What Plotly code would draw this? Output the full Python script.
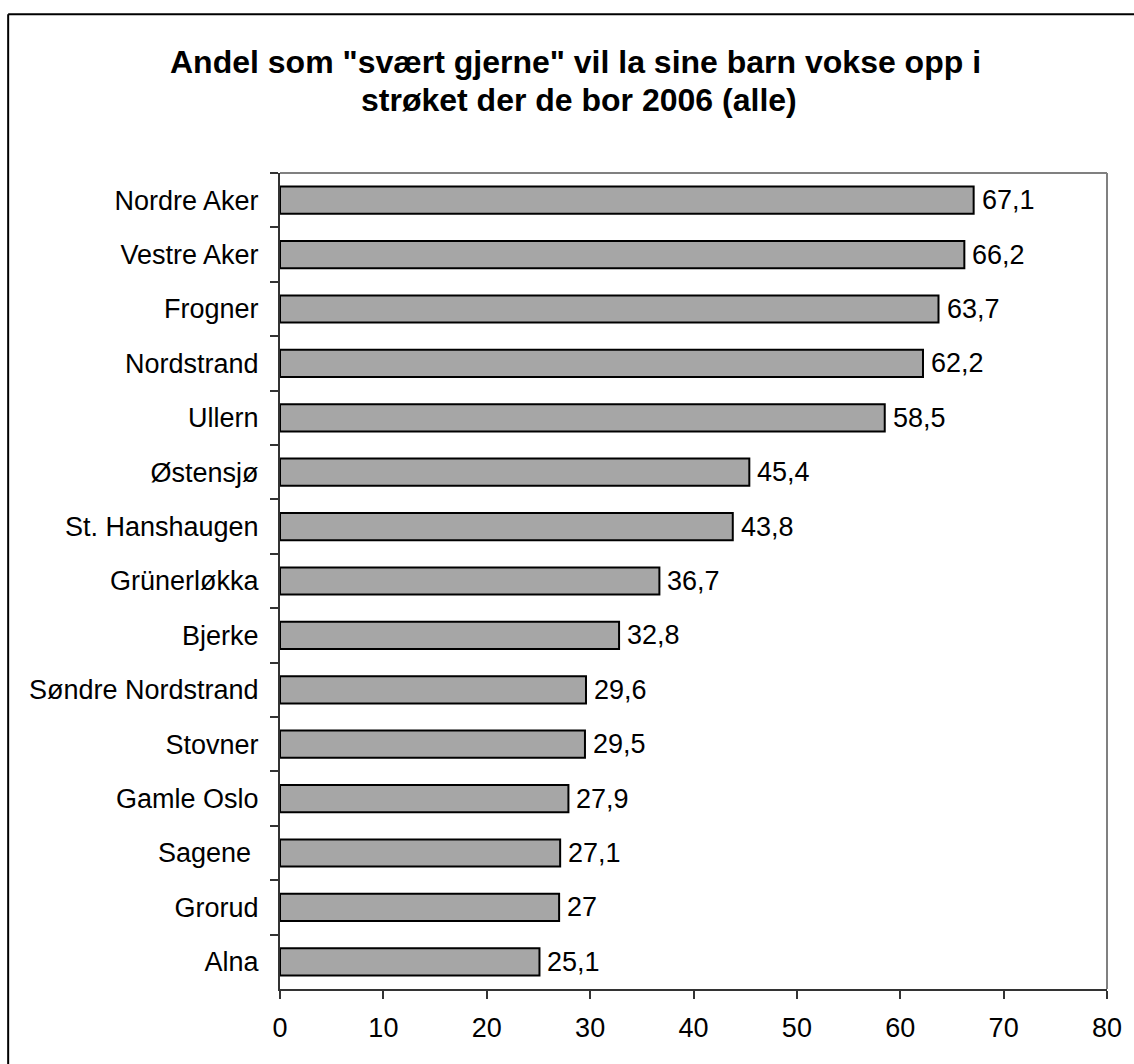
import plotly.graph_objects as go

categories = ["Nordre Aker", "Vestre Aker", "Frogner", "Nordstrand", "Ullern",
              "Østensjø", "St. Hanshaugen", "Grünerløkka", "Bjerke",
              "Søndre Nordstrand", "Stovner", "Gamle Oslo", "Sagene\u00a0",
              "Grorud", "Alna"]
values = [67.1, 66.2, 63.7, 62.2, 58.5, 45.4, 43.8, 36.7, 32.8, 29.6,
          29.5, 27.9, 27.1, 27.0, 25.1]
x_ticks = [0, 10, 20, 30, 40, 50, 60, 70, 80]
title_lines = ['Andel som "svært gjerne" vil la sine barn vokse opp i',
               'strøket der de bor 2006 (alle)']

W, H = 1134, 1064
ML, MR, MT, MB = 280, 26.5, 172.5, 74.5
PW, PH = W - ML - MR, H - MT - MB

FONT = "Liberation Sans, Arial, sans-serif"
FS = 27


def label(v):
    s = ("%.1f" % v).rstrip("0").rstrip(".")
    return s.replace(".", ",")


fig = go.Figure()
fig.add_trace(go.Bar(
    x=values, y=categories, orientation="h",
    marker=dict(color="#a6a6a6", line=dict(color="#000000", width=2)),
    width=0.5, hoverinfo="x+y",
))

annotations = []
for c, v in zip(categories, values):
    annotations.append(dict(x=v, y=c, xref="x", yref="y", text=label(v),
                            showarrow=False, xanchor="left", yanchor="middle",
                            xshift=6, font=dict(size=FS, color="#000", family=FONT)))


def py(px):
    return (H - MB - px) / PH


def pxx(px):
    return (px - ML) / PW


cx = pxx(576)
annotations.append(dict(x=cx, y=py(61), xref="paper", yref="paper",
                        text="<b>%s</b>" % title_lines[0], showarrow=False,
                        xanchor="center", yanchor="middle",
                        font=dict(size=32, color="#000", family=FONT)))
annotations.append(dict(x=pxx(579), y=py(99), xref="paper", yref="paper",
                        text="<b>%s</b>" % title_lines[1], showarrow=False,
                        xanchor="center", yanchor="middle",
                        font=dict(size=32, color="#000", family=FONT)))

shapes = [
    dict(type="line", xref="paper", yref="paper", x0=0, x1=1, y0=1, y1=1,
         line=dict(color="#808080", width=2)),
    dict(type="line", xref="paper", yref="paper", x0=1, x1=1, y0=0, y1=1,
         line=dict(color="#808080", width=2)),
    dict(type="line", xref="paper", yref="paper", x0=pxx(8), x1=pxx(8),
         y0=py(13.5), y1=py(H + 5), line=dict(color="#000", width=2)),
    dict(type="line", xref="paper", yref="paper", x0=pxx(8), x1=pxx(W + 5),
         y0=py(13.5), y1=py(13.5), line=dict(color="#000", width=2)),
]

fig.update_layout(
    width=W, height=H,
    margin=dict(l=ML, r=MR, t=MT, b=MB, pad=0),
    paper_bgcolor="white", plot_bgcolor="white",
    showlegend=False,
    font=dict(family=FONT, size=FS, color="#000"),
    annotations=annotations,
    shapes=shapes,
    bargap=0.5,
)
fig.update_xaxes(range=[0, 80], tickvals=x_ticks, ticktext=[str(t) for t in x_ticks],
                 showgrid=False, zeroline=False, showline=True,
                 linecolor="#333333", linewidth=2, ticks="outside", ticklen=8,
                 tickcolor="#333333", tickwidth=1.5, ticklabelstandoff=6,
                 tickfont=dict(size=FS, family=FONT, color="#000"))
fig.update_yaxes(autorange="reversed", categoryorder="array", categoryarray=categories,
                 showgrid=False, zeroline=False, showline=True,
                 linecolor="#333333", linewidth=2, ticks="outside", ticklen=8,
                 tickson="boundaries", tickcolor="#333333", tickwidth=1.5,
                 ticklabelstandoff=14,
                 tickfont=dict(size=FS, family=FONT, color="#000"))

fig.write_html("out.html", config={"displayModeBar": False},
               post_script="document.body.style.margin='0';document.body.style.overflow='hidden';")
